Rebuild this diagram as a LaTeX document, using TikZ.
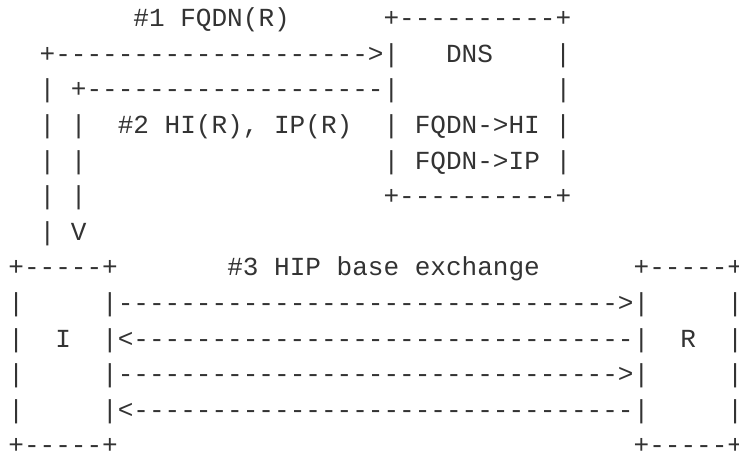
\documentclass[tikz,border=0pt]{standalone}
\usepackage{fontspec}
\setmonofont{Liberation Mono}
\definecolor{ink}{HTML}{333333}

% one character cell of the monospaced grid
\newlength\cw
\setlength\cw{15.6325pt}
\newcommand\gap[1]{\hspace*{#1\cw}}
\ExplSyntaxOn
\NewDocumentCommand\dashrun{m}{\prg_replicate:nn{#1}{-}}
\ExplSyntaxOff

\tikzset{
  asciirow/.style={anchor=base west, inner sep=0pt, outer sep=0pt, text=ink,
    font=\ttfamily\fontsize{26.05pt}{35.6pt}\selectfont},
}

\begin{document}
\begin{tikzpicture}[x=1pt,y=1pt]
\useasboundingbox[fill=white] (0,0) rectangle (739,-455);
\def\lx{8.4}
\node[asciirow] (l0)  at (\lx,-26.7)  {\gap{8}\#1 FQDN(R)\gap{6}+\dashrun{10}+};
\node[asciirow] (l1)  at (\lx,-62.3)  {\gap{2}+\dashrun{20}>|\gap{3}DNS\gap{4}|};
\node[asciirow] (l2)  at (\lx,-97.9)  {\gap{2}|\gap{1}+\dashrun{19}|\gap{10}|};
\node[asciirow] (l3)  at (\lx,-133.5) {\gap{2}|\gap{1}|\gap{2}\#2 HI(R), IP(R)\gap{2}|\gap{1}FQDN->HI\gap{1}|};
\node[asciirow] (l4)  at (\lx,-169.1) {\gap{2}|\gap{1}|\gap{19}|\gap{1}FQDN->IP\gap{1}|};
\node[asciirow] (l5)  at (\lx,-204.7) {\gap{2}|\gap{1}|\gap{19}+\dashrun{10}+};
\node[asciirow] (l6)  at (\lx,-240.3) {\gap{2}|\gap{1}V};
\node[asciirow] (l7)  at (\lx,-275.9) {+\dashrun{5}+\gap{7}\#3 HIP base exchange\gap{6}+\dashrun{5}+};
\node[asciirow] (l8)  at (\lx,-311.5) {|\gap{5}|\dashrun{32}>|\gap{5}|};
\node[asciirow] (l9)  at (\lx,-347.1) {|\gap{2}I\gap{2}|<\dashrun{32}|\gap{2}R\gap{2}|};
\node[asciirow] (l10) at (\lx,-382.7) {|\gap{5}|\dashrun{32}>|\gap{5}|};
\node[asciirow] (l11) at (\lx,-418.3) {|\gap{5}|<\dashrun{32}|\gap{5}|};
\node[asciirow] (l12) at (\lx,-453.9) {+\dashrun{5}+\gap{33}+\dashrun{5}+};
\end{tikzpicture}
\end{document}
